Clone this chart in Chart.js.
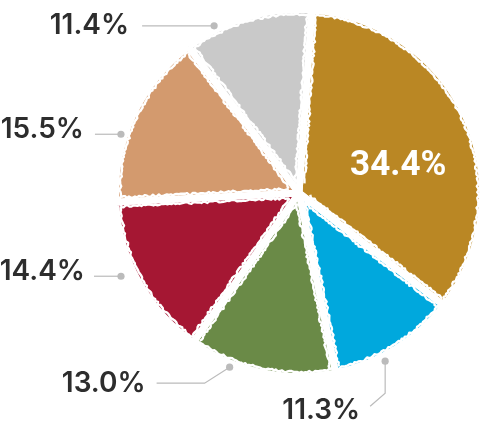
<!DOCTYPE html>
<html>
<head>
<meta charset="utf-8">
<script src="https://cdn.jsdelivr.net/npm/chart.js"></script>
<style>
  html, body { margin: 0; padding: 0; background: #fff; }
  #wrap { width: 486px; height: 432px; }
</style>
</head>
<body>
<div id="wrap"><canvas id="myChart" width="486" height="432"></canvas></div>
<script>
// dados do gráfico
const segmentos = ['Segmento 1', 'Segmento 2', 'Segmento 3', 'Segmento 4', 'Segmento 5', 'Segmento 6'];
const valores = [34.4, 11.3, 13.0, 14.4, 15.5, 11.4];
const rotulos = ['34.4%', '11.3%', '13.0%', '14.4%', '15.5%', '11.4%'];
const cores = ['#BA8724', '#00A8DD', '#6A8A47', '#A51733', '#D39A6E', '#C9C9C9'];

// posição dos rótulos externos: ajuste de ângulo, distância e segmentos da linha guia
const guias = [
  null,
  { nudge: 4.7, dr: 5.5, segs: [[0, 32], [-15, 13]], tx: -10, ty: 4 },
  { nudge: 9.8, dr: 4, segs: [[-25, 16], [-48, 0]], tx: -11, ty: 0 },
  { nudge: 3.7, dr: 13, segs: [[-27, 0]], tx: -9, ty: -5 },
  { nudge: -6.8, dr: 4, segs: [[-26, 0]], tx: -11, ty: -5 },
  { nudge: -10.4, dr: 4, segs: [[-72, 0]], tx: -13, ty: 0 }
];

function ruido(k, i) {
  const s = Math.sin(k * 12.9898 + i * 78.233) * 43758.5453;
  return s - Math.floor(s) - 0.5;
}

// bordas irregulares, parecendo desenho a mão
const bordaPlugin = {
  id: 'borda',
  afterDatasetsDraw(chart) {
    const ctx = chart.ctx;
    const meta = chart.getDatasetMeta(0);
    ctx.save();
    ctx.strokeStyle = '#fff';
    ctx.lineWidth = 2.4;
    ctx.lineJoin = 'round';
    meta.data.forEach((arc, i) => {
      const p = arc.getProps(['x', 'y', 'startAngle', 'endAngle', 'outerRadius'], true);
      const r = p.outerRadius - 4.5;
      // arco externo
      ctx.beginPath();
      let k = 0;
      for (let a = p.startAngle; a <= p.endAngle; a += 0.011) {
        const rr = r + ruido(k++, i) * 2.2;
        const px = p.x + Math.cos(a) * rr, py = p.y + Math.sin(a) * rr;
        if (k === 1) ctx.moveTo(px, py); else ctx.lineTo(px, py);
      }
      ctx.stroke();
      // lados retos
      [[p.startAngle, 1], [p.endAngle, -1]].forEach(([a, s], j) => {
        const nx = -Math.sin(a) * s, ny = Math.cos(a) * s;
        ctx.beginPath();
        let m = 0;
        for (let d = 10; d <= p.outerRadius - 4; d += 2) {
          const off = 4.5 + ruido(m++ + 500 * (j + 1), i) * 2.2;
          const px = p.x + Math.cos(a) * d + nx * off;
          const py = p.y + Math.sin(a) * d + ny * off;
          if (m === 1) ctx.moveTo(px, py); else ctx.lineTo(px, py);
        }
        ctx.stroke();
      });
    });
    ctx.restore();
  }
};

const rotuloPlugin = {
  id: 'rotulos',
  afterDraw(chart) {
    const ctx = chart.ctx;
    const meta = chart.getDatasetMeta(0);
    ctx.save();
    meta.data.forEach((arc, i) => {
      const p = arc.getProps(['x', 'y', 'startAngle', 'endAngle', 'outerRadius'], true);
      const mid = (p.startAngle + p.endAngle) / 2;
      if (i === 0) {
        // rótulo interno
        const a = mid + 9 * Math.PI / 180;
        const rr = p.outerRadius * 0.56;
        ctx.fillStyle = '#fff';
        ctx.font = 'bold 35px Roboto';
        ctx.textAlign = 'center';
        ctx.textBaseline = 'middle';
        ctx.fillText(rotulos[i], p.x + Math.cos(a) * rr, p.y + Math.sin(a) * rr);
        return;
      }
      const g = guias[i];
      const a = mid + g.nudge * Math.PI / 180;
      const rr = p.outerRadius + g.dr;
      let x = p.x + Math.cos(a) * rr, y = p.y + Math.sin(a) * rr;
      ctx.fillStyle = '#bbbbbb';
      ctx.beginPath();
      ctx.arc(x, y, 3.6, 0, Math.PI * 2);
      ctx.fill();
      ctx.strokeStyle = '#bbbbbb';
      ctx.lineWidth = 1.2;
      ctx.beginPath();
      ctx.moveTo(x, y);
      g.segs.forEach(([dx, dy]) => {
        x += dx; y += dy;
        ctx.lineTo(x, y);
      });
      ctx.stroke();
      ctx.fillStyle = '#2d2d2d';
      ctx.font = '600 28px Inter';
      ctx.textAlign = 'right';
      ctx.textBaseline = 'middle';
      ctx.fillText(rotulos[i], x + g.tx, y + g.ty);
    });
    ctx.restore();
  }
};

const ctx = document.getElementById('myChart');

const data = {
  labels: segmentos,
  datasets: [{
    data: valores,
    backgroundColor: cores,
    borderColor: '#fff',
    borderWidth: 7
  }]
};

const config = {
  type: 'pie',
  data: data,
  options: {
    responsive: false,
    animation: false,
    rotation: 4,
    layout: { padding: { left: 112, right: 0, top: 6, bottom: 52 } },
    plugins: {
      legend: { display: false },
      tooltip: { enabled: false }
    }
  },
  plugins: [bordaPlugin, rotuloPlugin]
};

const myChart = new Chart(ctx, config);
</script>
</body>
</html>
